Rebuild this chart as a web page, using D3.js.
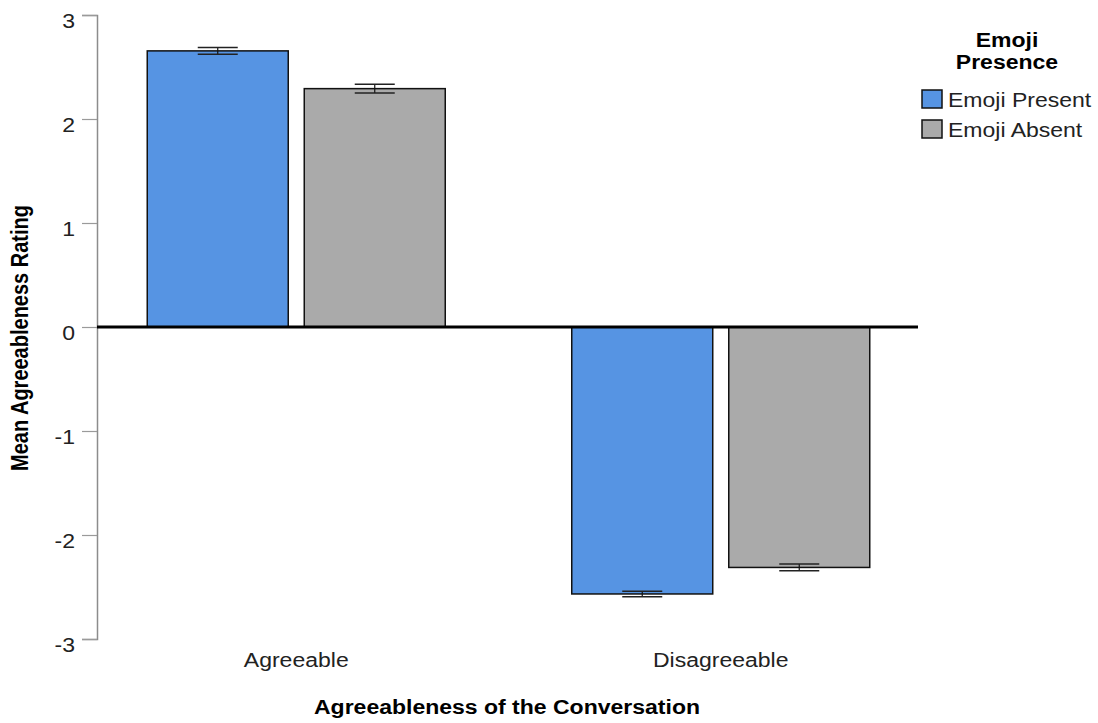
<!DOCTYPE html>
<html>
<head>
<meta charset="utf-8">
<script src="https://cdn.jsdelivr.net/npm/d3@7"></script>
<style>
  body { margin: 0; background: #fff; }
  svg { display: block; font-family: "Liberation Sans", Arial, sans-serif; }
</style>
</head>
<body>
<svg id="chart" width="1098" height="723"></svg>
<script>
// chart data
const categories = ["Agreeable", "Disagreeable"];
const groups = ["Emoji Present", "Emoji Absent"];
const colors = ["#5694e3", "#aaaaaa"];
const meanPresent = [2.655, -2.567];
const meanAbsent = [2.292, -2.312];
const errPresent = [0.032, 0.026];
const errAbsent = [0.043, 0.032];
const yTicks = [-3, -2, -1, 0, 1, 2, 3];

const rows = [];
categories.forEach((c, i) => {
  rows.push({ cat: c, group: groups[0], mean: meanPresent[i], err: errPresent[i] });
  rows.push({ cat: c, group: groups[1], mean: meanAbsent[i], err: errAbsent[i] });
});

const svg = d3.select("#chart");
const STRETCH = 1.15; // the picture is a bit wider than tall

// scales
const x = d3.scaleBand().domain(categories).range([84, 933]).padding(0);
const xg = d3.scaleBand().domain(groups).range([-149, 149]).paddingInner(0.102);
const y = d3.scaleLinear().domain([-3, 3]).range([639, 15]);
const color = d3.scaleOrdinal().domain(groups).range(colors);

// y axis
const yAxis = svg.append("g")
  .attr("transform", "translate(97,0)")
  .call(d3.axisLeft(y).tickValues(yTicks).tickSize(15).tickPadding(7).tickFormat(d => String(d)));
yAxis.select(".domain").attr("stroke", "#8c8c8c").attr("stroke-width", 1.5);
yAxis.selectAll(".tick line").attr("stroke", "#9a9a9a").attr("stroke-width", 1.2);
yAxis.selectAll(".tick text")
  .attr("class", "stretch")
  .attr("dy", "0.62em")
  .attr("fill", "#222")
  .style("font-size", "20px");

// bars
const bars = svg.append("g").selectAll("rect")
  .data(rows)
  .join("rect")
  .attr("x", d => x(d.cat) + x.bandwidth() / 2 + xg(d.group))
  .attr("width", xg.bandwidth())
  .attr("y", d => y(Math.max(0, d.mean)))
  .attr("height", d => Math.abs(y(d.mean) - y(0)))
  .attr("fill", d => color(d.group))
  .attr("stroke", "#111")
  .attr("stroke-width", 1.5);

// error bars
const eb = svg.append("g").selectAll("g")
  .data(rows)
  .join("g")
  .attr("transform", d => `translate(${x(d.cat) + x.bandwidth() / 2 + xg(d.group) + xg.bandwidth() / 2},0)`);
eb.append("line")
  .attr("y1", d => y(d.mean + d.err)).attr("y2", d => y(d.mean - d.err))
  .attr("stroke", "#111").attr("stroke-width", 1.2);
eb.selectAll(".cap")
  .data(d => [d.mean + d.err, d.mean - d.err])
  .join("line")
  .attr("class", "cap")
  .attr("x1", -20).attr("x2", 20)
  .attr("y1", v => y(v)).attr("y2", v => y(v))
  .attr("stroke", "#222").attr("stroke-width", 1.5);

// zero reference line
svg.append("line")
  .attr("x1", 97).attr("x2", 918)
  .attr("y1", y(0)).attr("y2", y(0))
  .attr("stroke", "#000").attr("stroke-width", 3);

// x category labels
svg.append("g").selectAll("text")
  .data(categories)
  .join("text")
  .attr("class", "stretch")
  .attr("x", d => x(d) + x.bandwidth() / 2)
  .attr("y", 667)
  .attr("text-anchor", "middle")
  .attr("fill", "#222")
  .style("font-size", "20px")
  .text(d => d);

// axis titles
svg.append("text")
  .attr("class", "stretch")
  .attr("x", 507).attr("y", 714)
  .attr("text-anchor", "middle")
  .style("font-size", "20px").style("font-weight", "bold")
  .text("Agreeableness of the Conversation");

svg.append("text")
  .attr("transform", "translate(28,338) rotate(-90) scale(1,1.15)")
  .attr("text-anchor", "middle")
  .style("font-size", "20px").style("font-weight", "bold")
  .text("Mean Agreeableness Rating");

// legend
const legend = svg.append("g");
legend.selectAll(".ltitle")
  .data(["Emoji", "Presence"])
  .join("text")
  .attr("class", "ltitle stretch")
  .attr("x", 1007).attr("y", (d, i) => 47 + i * 22)
  .attr("text-anchor", "middle")
  .style("font-size", "20px").style("font-weight", "bold")
  .text(d => d);

const items = legend.selectAll(".item")
  .data(groups)
  .join("g")
  .attr("class", "item")
  .attr("transform", (d, i) => `translate(922,${90 + i * 30})`);
items.append("rect")
  .attr("width", 20).attr("height", 18)
  .attr("fill", d => color(d))
  .attr("stroke", "#111").attr("stroke-width", 1.5);
items.append("text")
  .attr("class", "stretch")
  .attr("x", 26).attr("y", 17)
  .attr("fill", "#222")
  .style("font-size", "20px")
  .text(d => d);

// widen horizontal text to match the reference proportions
svg.selectAll("text.stretch").each(function () {
  const w = this.getComputedTextLength();
  d3.select(this).attr("textLength", w * STRETCH).attr("lengthAdjust", "spacingAndGlyphs");
});
</script>
</body>
</html>
